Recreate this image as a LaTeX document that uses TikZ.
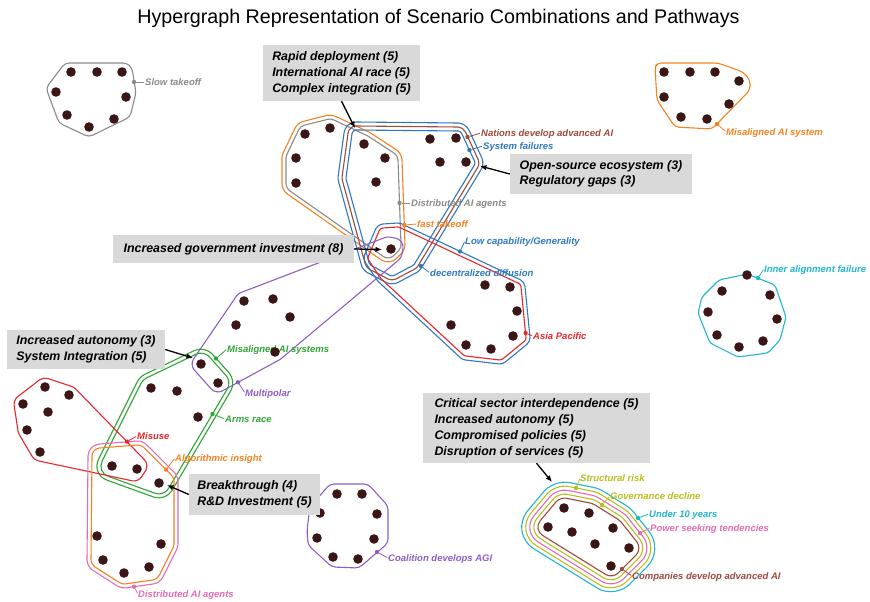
\documentclass[tikz,border=0pt]{standalone}
\usepackage{fontspec}
\setmainfont{Liberation Sans}
\usetikzlibrary{calc,arrows.meta}

\definecolor{dotc}{HTML}{3B1616}
\definecolor{hgray}{HTML}{8A8A8A}
\definecolor{horange}{HTML}{F5821F}
\definecolor{hcyan}{HTML}{1FB6D0}
\definecolor{hblue}{HTML}{2E78C2}
\definecolor{hbrown}{HTML}{9C4B3C}
\definecolor{hred}{HTML}{E8262B}
\definecolor{hpurple}{HTML}{8E5EC4}
\definecolor{hgreen}{HTML}{30A535}
\definecolor{hpink}{HTML}{E46CB3}
\definecolor{holive}{HTML}{B7BE1C}
\definecolor{boxgray}{HTML}{D9D9D9}

% Outline at distance #3 (pt) around the convex core polygon #11..#1n (n = #2),
% corners listed clockwise; drawn with options #4.
\newcommand\ringline[4]{%
  \foreach \k in {1,...,#2}{%
    \pgfmathtruncatemacro\kp{mod(\k+#2-2,#2)+1}%
    \pgfmathtruncatemacro\kn{mod(\k,#2)+1}%
    \coordinate (rA\k) at ($(#1\k)!#3pt!-90:(#1\kp)$);
    \coordinate (rB\k) at ($(#1\k)!#3pt!90:(#1\kn)$);
    \coordinate (rC\k x) at ($(rA\k)+(#1\k)-(#1\kp)$);
    \coordinate (rD\k) at ($(rB\k)+(#1\kn)-(#1\k)$);
    \coordinate (rM\k) at (intersection of rA\k--rC\k x and rB\k--rD\k);
    \coordinate (rP\k) at ($(rA\k)!0.55!(rM\k)$);
    \coordinate (rQ\k) at ($(rB\k)!0.55!(rM\k)$);
  }%
  \gdef\ringpath{}%
  \foreach \k in {2,...,#2}{%
    \xdef\ringpath{\ringpath -- (rA\k) .. controls (rP\k) and (rQ\k) .. (rB\k)}}%
  \edef\ringdraw{\noexpand\draw[#4] (rB1) \ringpath -- (rA1) .. controls (rP1) and (rQ1) .. (rB1) -- cycle;}%
  \ringdraw
}

% marker on a hyperedge, its label and the short leader between them
\newcommand\edgelabel[5]{%
  \node[mk, fill=#2] (m#1) at (#3) {};
  \node[lbl, text=#2] (l#1) at (#4) {#5};
  \draw[#2, line width=0.8pt, shorten >=1pt] (m#1) -- (l#1.west);
}

\tikzset{
  edge/.style={line width=1.1pt, line join=round},
  dot/.style={circle, fill=dotc, inner sep=0pt, minimum size=9.6pt},
  mk/.style={circle, inner sep=0pt, minimum size=4.4pt},
  lbl/.style={font=\fontsize{9.5pt}{11pt}\selectfont\bfseries\itshape, inner sep=0pt,
    text height=6.8pt, text depth=0pt, anchor=west},
  infobox/.style={fill=boxgray, text=black, align=left, inner sep=0pt,
    font=\fontsize{12.4pt}{16pt}\selectfont\bfseries\itshape},
  arr/.style={-{Latex[length=6.5pt,width=5.5pt]}, line width=1.3pt, black}
}

\begin{document}
\begin{tikzpicture}[x=1pt,y=-1pt]
\useasboundingbox (0,0) rectangle (870,602);

\node[font=\fontsize{19.7pt}{22pt}\selectfont, anchor=base] (title) at (438.5,24)
  {Hypergraph Representation of Scenario Combinations and Pathways};

% ---- single hyperedges
\draw[edge, hgray, rounded corners=4pt] (65,63) -- (127,63) -- (132,68) -- (136,93) -- (130,117)
  -- (89,137) -- (59,123) -- (46,88) -- cycle;
\draw[edge, horange, rounded corners=4pt] (657,63) -- (718,63) -- (743,72) -- (750,80) -- (750,90)
  -- (712,129) -- (675,127) -- (657,100) -- (655,68) -- cycle;
\draw[edge, hcyan, rounded corners=3pt] (719,280) -- (747,274) -- (775,285) -- (786,317) -- (780,340)
  -- (768,353) -- (738,357) -- (710,343) -- (698,313) -- (702,297) -- cycle;
\draw[edge, hpurple, rounded corners=4pt] (330,484) -- (368,484) -- (388,506) -- (388,543)
  -- (359,568) -- (332,567) -- (308,545) -- (307,530) -- (310,507) -- cycle;

% ---- core polygons of the overlapping hyperedges
\foreach \x/\y [count=\i] in {306/133,330/127,364/143,390/160,393/245,388/250,294/184,294/158}
  \coordinate (hA\i) at (\x,\y);
\foreach \x/\y [count=\i] in {356/134,458/135,471/163,411/262,392/272,373/262,350/178}
  \coordinate (hB\i) at (\x,\y);
\foreach \x/\y [count=\i] in {383/232,398/231,517/287,522/338,500/356,466/352,384/276,372/258}
  \coordinate (hC\i) at (\x,\y);
\foreach \x/\y [count=\i] in {244/301,388/246,394/247,393/253,275/352,218/383,201/364}
  \coordinate (hP\i) at (\x,\y);
\foreach \x/\y [count=\i] in {201/364,218/383,159/483,112/466,151/388}
  \coordinate (hG\i) at (\x,\y);
\foreach \x/\y [count=\i] in {45/387,69/395,138/466,134/472,40/452,27/430,23/404}
  \coordinate (hR\i) at (\x,\y);
\foreach \x/\y [count=\i] in {100/456,138/453,166/481,166/544,152/572,124/576,99/560}
  \coordinate (hO\i) at (\x,\y);
\foreach \x/\y [count=\i] in {564/508,589/513,613/528,629/548,611/566,548/527}
  \coordinate (hS\i) at (\x,\y);

\ringline{hA}{8}{8}{edge, hgray}
\ringline{hA}{8}{12}{edge, horange}
\ringline{hB}{7}{4}{edge, hblue}
\ringline{hB}{7}{8}{edge, hbrown}
\ringline{hB}{7}{12}{edge, hblue}
\ringline{hC}{8}{4}{edge, hred}
\ringline{hC}{8}{8}{edge, hblue}
\ringline{hP}{7}{9}{edge, hpurple}
\ringline{hG}{5}{11}{edge, hgreen}
\ringline{hG}{5}{15}{edge, hgreen}
\ringline{hR}{7}{9}{edge, hred}
\ringline{hO}{7}{8}{edge, horange}
\ringline{hO}{7}{12}{edge, hpink}
\ringline{hS}{6}{10}{edge, hbrown}
\ringline{hS}{6}{14}{edge, holive}
\ringline{hS}{6}{18}{edge, hpink}
\ringline{hS}{6}{22}{edge, holive}
\ringline{hS}{6}{26}{edge, hcyan}

% ---- hyperedge labels
\edgelabel{1}{hgray}{134,82}{145,82}{Slow takeoff}
\edgelabel{2}{horange}{717,124}{726,132}{Misaligned AI system}
\edgelabel{3}{hcyan}{758,278}{764,269}{Inner alignment failure}
\edgelabel{4}{hbrown}{467.5,137}{481,133}{Nations develop advanced AI}
\edgelabel{5}{hblue}{469.4,150}{483,146}{System failures}
\edgelabel{6}{hgray}{399.5,203}{411,203}{Distributed AI agents}
\edgelabel{7}{horange}{404.3,225}{417,224}{fast takeoff}
\edgelabel{8}{hblue}{460,251.4}{465,241}{Low capability/Generality}
\edgelabel{9}{hblue}{421,266}{430,273}{decentralized diffusion}
\edgelabel{10}{hred}{525.6,333}{533,336}{Asia Pacific}
\edgelabel{11}{hgreen}{216,358.5}{227,349}{Misaligned AI systems}
\edgelabel{12}{hpurple}{238,382.3}{245,393}{Multipolar}
\edgelabel{13}{hgreen}{212.5,414}{225,419}{Arms race}
\edgelabel{14}{hred}{127,441.6}{137,436}{Misuse}
\edgelabel{15}{horange}{166,469.6}{175,458}{Algorithmic insight}
\edgelabel{16}{hpink}{134,586.7}{138,594}{Distributed AI agents}
\edgelabel{17}{hpurple}{377,552}{388,558}{Coalition develops AGI}
\edgelabel{18}{holive}{576,488}{580,478}{Structural risk}
\edgelabel{19}{holive}{602,505}{610,496}{Governance decline}
\edgelabel{20}{hcyan}{638,518}{649,514}{Under 10 years}
\edgelabel{21}{hpink}{640,533}{650,528}{Power seeking tendencies}
\edgelabel{22}{hbrown}{622,569}{632,576}{Companies develop advanced AI}

% ---- vertices
\foreach \x/\y [count=\i] in {
  71/72,97/72,122/72,56/92,126/97,67/115,89/127,114/119,
  664/72,690/72,715/72,739/81,664/97,729/104,681/117,707/119,
  747/275,770/295,777/319,763/341,739/347,717/335,708/312,722/291,
  337/494,362/494,377/514,320/513,317/538,374/539,333/557,358/559,
  564/508,589/513,548/527,572/532,613/528,595/544,629/548,611/566,
  305/134,330/128,296/158,296/183,364/144,385/158,376/182,
  430/139,456/138,440/162,466/162,391/249,
  485/285,510/287,517/311,513/336,491/349,466/345,451/325,
  244/301,273/299,236/325,290/317,275/352,
  201/364,218/383,151/388,177/391,198/417,
  45/387,69/395,23/404,48/412,27/430,40/452,
  112/466,137/469,159/483,
  97/536,161/544,103/560,124/573,149/567}
  \node[dot] (v\i) at (\x,\y) {};

% ---- scenario boxes and their arrows
\node[infobox, minimum width=157pt, minimum height=56pt] (bx1) at (341.5,73)
  {Rapid deployment (5)\\International AI race (5)\\Complex integration (5)};
\node[infobox, minimum width=182pt, minimum height=40pt,
  font=\fontsize{12.4pt}{15.5pt}\selectfont\bfseries\itshape] (bx2) at (601,174)
  {Open-source ecosystem (3)\\Regulatory gaps (3)};
\node[infobox, minimum width=241pt, minimum height=28pt] (bx3) at (233.5,249)
  {Increased government investment (8)};
\node[infobox, minimum width=158pt, minimum height=39pt] (bx4) at (86,349.5)
  {Increased autonomy (3)\\System Integration (5)};
\node[infobox, minimum width=131pt, minimum height=41pt] (bx5) at (254.5,494.5)
  {Breakthrough (4)\\R\&D Investment (5)};
\node[infobox, minimum width=227pt, minimum height=70pt] (bx6) at (536.5,428)
  {Critical sector interdependence (5)\\Increased autonomy (5)\\Compromised policies (5)\\Disruption of services (5)};

\coordinate (t1) at (355,128);
\coordinate (t2) at (480,166);
\coordinate (t3) at (382,249.5);
\coordinate (t4) at (193,358);
\coordinate (t5) at (167,485);
\coordinate (t6) at (552,482);
\draw[arr] (bx1.south) -- (t1);
\draw[arr] (bx2.west) -- (t2);
\draw[arr] (bx3.east) -- (t3);
\draw[arr] (bx4.east) -- (t4);
\draw[arr] (bx5.west) -- (t5);
\draw[arr] (bx6.south) -- (t6);
\end{tikzpicture}
\end{document}
